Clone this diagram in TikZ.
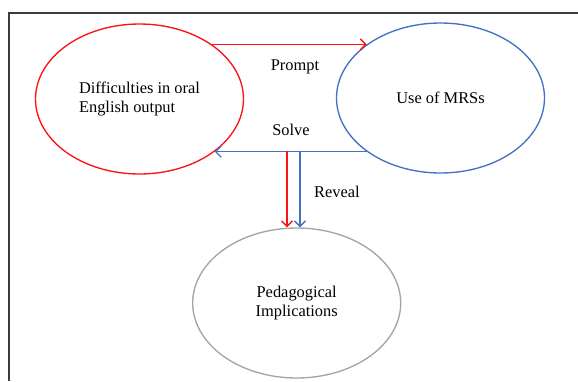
\documentclass[tikz,border=0pt]{standalone}
\usepackage{fontspec}
\setmainfont{Liberation Serif}
\usetikzlibrary{shapes.geometric,arrows.meta}
\definecolor{fred}{RGB}{250,20,20}
\definecolor{fblue}{RGB}{68,114,196}
\definecolor{fgray}{RGB}{165,165,165}
\definecolor{fframe}{RGB}{60,60,60}
\begin{document}
\begin{tikzpicture}[x=1pt,y=-1pt,
  bubble/.style={ellipse, draw, line width=1.35pt, inner sep=0pt,
    minimum width=208pt, minimum height=150pt, align=center,
    font=\fontsize{16.4}{19}\selectfont},
  lbl/.style={inner sep=0pt, font=\fontsize{16.4}{19}\selectfont},
  link/.style={line width=1.3pt, -{Straight Barb[length=5.5pt,width=11pt,line width=1.3pt]}}]
\useasboundingbox (0,0) rectangle (578,381);
\draw[fframe, line width=1.4pt] (9,381) -- (9,13) -- (578,13);
\node[bubble, draw=fred, align=left] (red) at (139.5,99) {Difficulties in oral\\English output\hspace*{6pt}};
\node[bubble, draw=fblue] (blue) at (440.5,98) {Use of MRSs};
\node[bubble, draw=fgray] (gray) at (296.7,303) {Pedagogical\\Implications};
\draw[link, fred] (red.37) -- (red.37 -| blue.144);
\draw[link, fblue] (blue.216) -- (blue.216 -| red.-35);
\coordinate (rtop) at (287,151);
\coordinate (btop) at (300,151);
\draw[link, fred] (rtop) -- (rtop |- gray.north);
\draw[link, fblue] (btop) -- (btop |- gray.north);
\node[lbl] (prompt) at (295,67) {Prompt};
\node[lbl] (solve) at (291,130) {Solve};
\node[lbl] (reveal) at (337,192) {Reveal};
\end{tikzpicture}
\end{document}
